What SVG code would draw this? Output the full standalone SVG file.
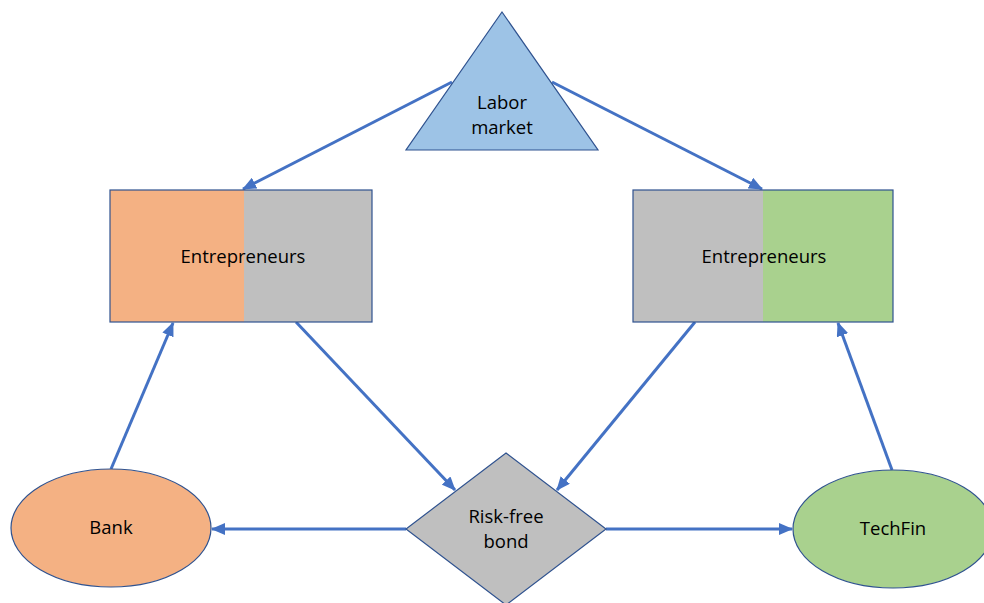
<svg xmlns="http://www.w3.org/2000/svg" width="984" height="603" viewBox="0 0 984 603">
<defs>
<style>
.node{stroke:#2F528F;stroke-width:1.2}
.lbl{font-family:"Open Sans","Liberation Sans",sans-serif;font-size:18.5px;fill:#000;text-anchor:middle}
.conn{stroke:#4472C4;stroke-width:3;fill:none;marker-end:url(#ah)}
</style>
<marker id="ah" markerUnits="userSpaceOnUse" markerWidth="14" markerHeight="12" refX="13" refY="6" orient="auto">
<path d="M0,0 L14,6 L0,12 Z" fill="#4472C4"/>
</marker>
</defs>
<rect width="984" height="603" fill="#fff"/>
<g id="connectors">
<line class="conn" x1="452" y1="82" x2="243" y2="189"/>
<line class="conn" x1="552" y1="82" x2="762" y2="189"/>
<line class="conn" x1="296" y1="322" x2="455" y2="490"/>
<line class="conn" x1="695" y1="322" x2="557" y2="490"/>
<line class="conn" x1="111" y1="469" x2="173" y2="323"/>
<line class="conn" x1="892" y1="470" x2="838" y2="323"/>
<line class="conn" x1="406" y1="529" x2="212" y2="529"/>
<line class="conn" x1="606" y1="529" x2="792" y2="529"/>
</g>
<g id="labor">
<polygon class="node" points="502,12 598,150 406,150" fill="#9DC3E6"/>
<text class="lbl" x="502" y="109">Labor</text>
<text class="lbl" x="502" y="134">market</text>
</g>
<g id="entrepreneursLeft">
<rect x="110" y="190" width="134" height="132" fill="#F4B183"/>
<rect x="244" y="190" width="128" height="132" fill="#BFBFBF"/>
<rect class="node" x="110" y="190" width="262" height="132" fill="none"/>
<text class="lbl" x="243" y="263">Entrepreneurs</text>
</g>
<g id="entrepreneursRight">
<rect x="633" y="190" width="130" height="132" fill="#BFBFBF"/>
<rect x="763" y="190" width="130" height="132" fill="#A9D18E"/>
<rect class="node" x="633" y="190" width="260" height="132" fill="none"/>
<text class="lbl" x="764" y="263">Entrepreneurs</text>
</g>
<g id="bank">
<ellipse class="node" cx="111" cy="528" rx="100" ry="59" fill="#F4B183"/>
<text class="lbl" x="111" y="534">Bank</text>
</g>
<g id="techfin">
<ellipse class="node" cx="893" cy="529" rx="100" ry="59" fill="#A9D18E"/>
<text class="lbl" x="893" y="535">TechFin</text>
</g>
<g id="bond">
<polygon class="node" points="506,453 606,529 506,605 406,529" fill="#BFBFBF"/>
<text class="lbl" x="506" y="523">Risk-free</text>
<text class="lbl" x="506" y="548">bond</text>
</g>
</svg>
